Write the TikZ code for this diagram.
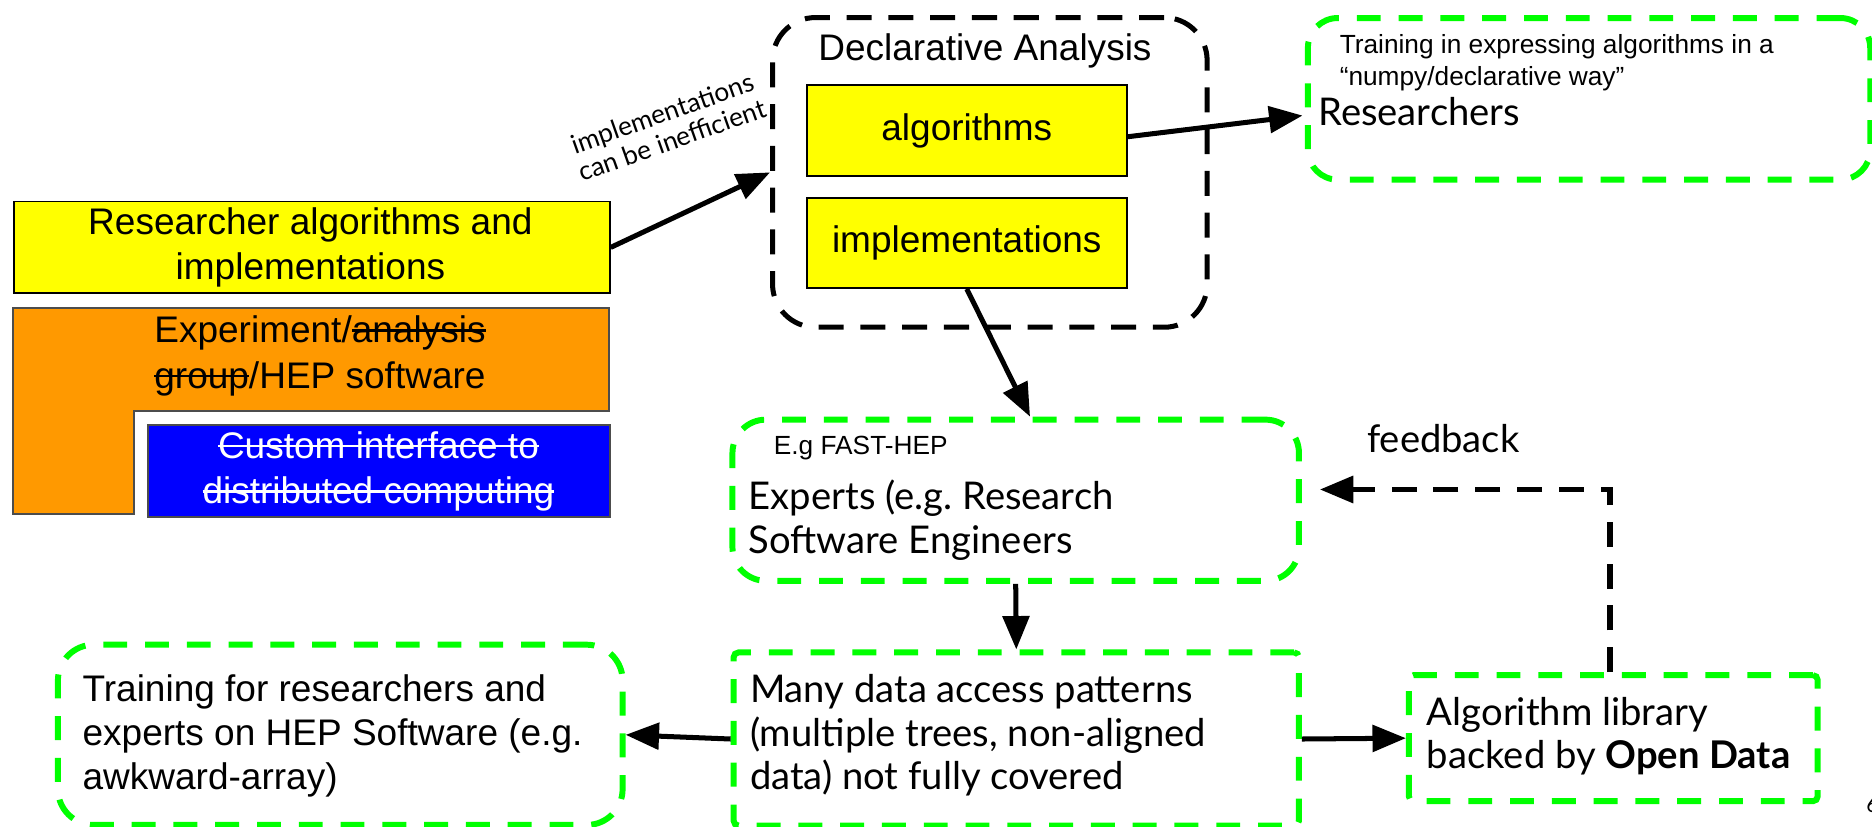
\documentclass[tikz,border=0pt]{standalone}
\usepackage{fontspec}
\setmainfont{Liberation Sans}
\newfontfamily\latof{Lato}
\usetikzlibrary{arrows.meta,calc}
\frenchspacing

% struck-through text: colour of the bar, then the text
\newcommand\strk[2][black]{\leavevmode\setbox0\hbox{#2}\rlap{\color{#1}\rule[0.3em]{\wd0}{2pt}}\box0}

\definecolor{hlgreen}{HTML}{00FF00}
\definecolor{hlorange}{HTML}{FF9900}
\definecolor{hlblue}{HTML}{0000FF}
\definecolor{hlyellow}{HTML}{FFFF00}

\begin{document}
\begin{tikzpicture}[x=1pt,y=-1pt,
  ybox/.style={draw=black,line width=1.5pt,fill=hlyellow,inner sep=0pt,anchor=north west},
  gbox/.style={draw=hlgreen,line width=5pt,dash pattern=on 20pt off 15pt,inner sep=0pt,anchor=north west},
  dbox/.style={draw=black,line width=4.2pt,dash pattern=on 21pt off 14pt,inner sep=0pt,anchor=north west},
  arr/.style={line width=4.2pt,-{Triangle[length=28pt,width=22pt]}},
  bigsans/.style={font=\fontsize{31}{38}\selectfont,inner sep=0pt},
  smallsans/.style={font=\fontsize{22}{26.6}\selectfont,inner sep=0pt},
  biglato/.style={font=\latof\fontsize{32}{37}\selectfont,inner sep=0pt},
]
\useasboundingbox (0,0) rectangle (1568,692);

% ---- left column: researcher code on top of experiment software ----
\node[ybox,minimum width=499pt,minimum height=77pt] (resalg) at (11,168) {};
\node[bigsans,align=center] (resalgt) at (260,207) {Researcher algorithms and\\implementations};

\draw[draw=black!70,line width=1.5pt,fill=hlorange]
  (11,258) -- (510,258) -- (510,344) -- (112,344) -- (112,430.5) -- (11,430.5) -- cycle;
\node[bigsans,align=center] (expsw) at (268,298) {Experiment/\strk{analysis}\\\strk{group}/HEP software};

\node[draw=black!70,line width=1.5pt,fill=hlblue,inner sep=0pt,anchor=north west,
      minimum width=386.5pt,minimum height=77pt] (custom) at (123.5,355) {};
\node[bigsans,align=center,text=white] (customt) at (317,395)
  {\strk[white]{Custom interface to}\\\strk[white]{distributed computing}};

% ---- declarative analysis group ----
\node[dbox,rounded corners=36pt,minimum width=364pt,minimum height=259.4pt] (decl) at (645,12.6) {};
\node[bigsans] (declt) at (825,43) {Declarative Analysis};
\node[ybox,minimum width=268pt,minimum height=76.4pt] (algo) at (675,70.6) {};
\node[bigsans] (algot) at (algo.center) {algorithms};
\node[ybox,minimum width=268pt,minimum height=75.5pt] (impl) at (675,165) {};
\node[bigsans] (implt) at (impl.center) {implementations};

\node[font=\latof\fontsize{22}{24}\selectfont,inner sep=0pt,align=center,rotate=19.5]
  (ineff) at (559,106) {implementations\\can be inefficient};

% ---- researchers (top right) ----
\node[gbox,rounded corners=25pt,minimum width=471pt,minimum height=135.4pt] (resr) at (1093,12.6) {};
\node[smallsans,align=left,anchor=west] (resrt) at (1122,52.3)
  {Training in expressing algorithms in a\\“numpy/declarative way”};
\node[biglato,anchor=west] (resrn) at (1104,93.5) {Researchers};

% ---- experts ----
\node[gbox,rounded corners=28pt,minimum width=474.5pt,minimum height=135pt] (expt) at (611,349) {};
\node[smallsans,anchor=west] (fast) at (648,375) {E.g FAST-HEP};
\node[biglato,align=left,anchor=west] (exptt) at (627,435.5) {Experts (e.g. Research\\Software Engineers};

% ---- data access patterns ----
\node[gbox,rounded corners=4pt,minimum width=473.5pt,minimum height=145pt] (many) at (612,544) {};
\node[biglato,align=left,anchor=west,font=\latof\fontsize{32}{36.5}\selectfont] (manyt) at (628,616)
  {Many data access patterns\\(multiple trees, non-aligned\\data) not fully covered};

% ---- training for HEP software ----
\node[gbox,rounded corners=30pt,minimum width=473pt,minimum height=151pt] (train) at (46,537.5) {};
\node[bigsans,align=left,anchor=west,font=\fontsize{31}{37}\selectfont] (traint) at (69,616.5)
  {Training for researchers and\\experts on HEP Software (e.g.\\awkward-array)};

% ---- algorithm library ----
\node[gbox,rounded corners=4pt,minimum width=342.4pt,minimum height=105.6pt] (lib) at (1177.6,563) {};
\node[biglato,align=left,anchor=west,font=\latof\fontsize{32}{36}\selectfont] (libt) at (1195,617)
  {Algorithm library\\backed by \textbf{Open Data}};

\node[biglato,anchor=east] (fbt) at (1273,367) {feedback};
\node[font=\latof\fontsize{18}{20}\selectfont,inner sep=0pt,anchor=west] (pgno) at (1563,674) {6};

% ---- connectors ----
\draw[arr] (resalg.east) -- (decl.west);
\draw[arr] ($(algo.east)+(0,5)$) -- ($(resr.west)+(-2,14)$);
\draw[arr] (impl.south) -- ($(expt.north)+(12,0)$);
\draw[arr] (expt.south) -- (many.north);
\draw[arr] (many.west) -- (train.east);
\draw[arr] (many.east) -- (lib.west);

\coordinate (fbk) at (1348.6,410);
\draw[line width=4.6pt,dash pattern=on 21pt off 14pt,-{Triangle[length=28pt,width=22pt]},shorten >=15pt]
  (lib.north -| fbk) -- (fbk) -- (expt.east |- fbk);
\end{tikzpicture}
\end{document}
